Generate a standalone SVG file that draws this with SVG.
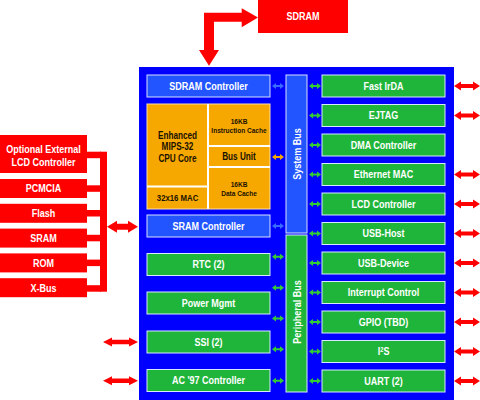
<svg xmlns="http://www.w3.org/2000/svg" width="480" height="400" viewBox="0 0 480 400">
<style>
.t,.k{font-family:"Liberation Sans",Arial,sans-serif;font-weight:bold;text-anchor:middle;transform-box:fill-box;transform-origin:center;transform:scaleX(0.82)}
.t{font-size:11px;fill:#fff}
.k{fill:#1a1200}
.red{fill:#ff0000}
.g{fill:#1fb53a;stroke:#d8e8ff;stroke-width:1}
.b{fill:#2255ff;stroke:#d8e0ff;stroke-width:1}
.o{fill:#f7a800}
.ga{fill:#33cc33}
</style>
<defs>
<path id="sa" d="M-6,0 L-2,-3 V-1 H2 V-3 L6,0 L2,3 V1 H-2 V3 Z"/>
<path id="ra" d="M0,0 L7,-4.5 V-2 H19 V-4.5 L26,0 L19,4.5 V2 H7 V4.5 Z"/>
<path id="la" d="M0,0 L9,-4.5 V-2.2 H26 V-4.5 L35,0 L26,4.5 V2.2 H9 V4.5 Z"/>
</defs>
<rect width="480" height="400" fill="#fff"/>
<rect x="139" y="67" width="315" height="333" fill="#0000ff"/>

<g id="sdram"><rect class="red" x="258" y="0" width="90" height="33"/><text class="t" x="303" y="20.5">SDRAM</text></g>

<g id="connectors">
<path class="red" d="M204,12.7 H241.7 V8.3 L258,17.5 L241.7,27.3 V21.7 H214 V50 H219 L209,65.7 L199,50 H204 Z"/>
<rect class="red" x="100" y="151.7" width="7" height="140"/>
<rect class="red" x="86" y="151.7" width="15" height="6.5"/>
<rect class="red" x="86" y="185.3" width="15" height="6.5"/>
<rect class="red" x="86" y="210" width="15" height="6.5"/>
<rect class="red" x="86" y="234.8" width="15" height="6.5"/>
<rect class="red" x="86" y="259.6" width="15" height="6.5"/>
<rect class="red" x="86" y="285.2" width="15" height="6.5"/>
<path class="red" d="M107,226.7 L117,220.7 V223.7 H128 V220.7 L138,226.7 L128,232.7 V229.7 H117 V232.7 Z"/>
<use href="#la" x="103" y="342" class="red"/>
<use href="#la" x="103" y="380.7" class="red"/>
<use href="#ra" x="454" y="86" class="red"/>
<use href="#ra" x="454" y="115.5" class="red"/>
<use href="#ra" x="454" y="174.5" class="red"/>
<use href="#ra" x="454" y="204" class="red"/>
<use href="#ra" x="454" y="233.5" class="red"/>
<use href="#ra" x="454" y="263" class="red"/>
<use href="#ra" x="454" y="292.5" class="red"/>
<use href="#ra" x="454" y="322" class="red"/>
<use href="#ra" x="454" y="351.5" class="red"/>
<use href="#ra" x="454" y="381" class="red"/>
<use href="#sa" x="278" y="86" fill="#3a6cff"/>
<use href="#sa" x="278" y="157" fill="#f7a800"/>
<use href="#sa" x="278" y="226" fill="#3a6cff"/>
<use href="#sa" x="278" y="256.7" class="ga"/>
<use href="#sa" x="278" y="287.7" class="ga"/>
<use href="#sa" x="278" y="318.5" class="ga"/>
<use href="#sa" x="278" y="349.3" class="ga"/>
<use href="#sa" x="278" y="380.7" class="ga"/>
<use href="#sa" x="315" y="86" class="ga"/>
<use href="#sa" x="315" y="115.5" class="ga"/>
<use href="#sa" x="315" y="145" class="ga"/>
<use href="#sa" x="315" y="174.5" class="ga"/>
<use href="#sa" x="315" y="204" class="ga"/>
<use href="#sa" x="315" y="233.5" class="ga"/>
<use href="#sa" x="315" y="263" class="ga"/>
<use href="#sa" x="315" y="292.5" class="ga"/>
<use href="#sa" x="315" y="322" class="ga"/>
<use href="#sa" x="315" y="351.5" class="ga"/>
<use href="#sa" x="315" y="381" class="ga"/>
</g>

<g id="lcdext"><rect class="red" x="0" y="135" width="87" height="38"/><text class="t" x="43.5" y="153">Optional External</text><text class="t" x="43.5" y="165.6">LCD Controller</text></g>
<g id="pcmcia"><rect class="red" x="0" y="179" width="87" height="19"/><text class="t" x="43.5" y="192.5">PCMCIA</text></g>
<g id="flash"><rect class="red" x="0" y="203.8" width="87" height="19"/><text class="t" x="43.5" y="217.3">Flash</text></g>
<g id="sram"><rect class="red" x="0" y="228.6" width="87" height="19"/><text class="t" x="43.5" y="242.1">SRAM</text></g>
<g id="rom"><rect class="red" x="0" y="253.4" width="87" height="19"/><text class="t" x="43.5" y="266.9">ROM</text></g>
<g id="xbus"><rect class="red" x="0" y="278.2" width="87" height="19"/><text class="t" x="43.5" y="291.7">X-Bus</text></g>

<g id="systembus"><rect class="b" x="286" y="75" width="21" height="158" fill="#1a40ff"/><g transform="translate(300.5,154) rotate(-90)"><text class="t" x="0" y="0">System Bus</text></g></g>
<g id="peripheralbus"><rect class="g" x="286" y="235" width="21" height="157"/><g transform="translate(300.5,312) rotate(-90)"><text class="t" x="0" y="0">Peripheral Bus</text></g></g>

<g id="sdramctrl"><rect class="b" x="147" y="75" width="123" height="22"/><text class="t" x="208.5" y="90">SDRAM Controller</text></g>
<g id="cpu">
<rect class="o" x="147" y="104" width="123" height="105" stroke="#ffe0a0" stroke-width="1"/>
<path d="M208,104 V209 M147,186.5 H208 M208,146 H270 M208,167 H270" stroke="#fff" stroke-width="2" fill="none"/>
<text class="k" x="177.5" y="138.6" font-size="10">Enhanced</text>
<text class="k" x="177.5" y="150.3" font-size="10">MIPS-32</text>
<text class="k" x="177.5" y="162" font-size="10">CPU Core</text>
<text class="k" x="177.5" y="201.5" font-size="9.5">32x16 MAC</text>
<text class="k" x="239" y="123.8" font-size="8">16KB</text>
<text class="k" x="239" y="133" font-size="8">Instruction Cache</text>
<text class="k" x="239" y="160.3" font-size="10">Bus Unit</text>
<text class="k" x="239" y="187.2" font-size="8">16KB</text>
<text class="k" x="239" y="196.4" font-size="8">Data Cache</text>
</g>
<g id="sramctrl"><rect class="b" x="147" y="215" width="123" height="22"/><text class="t" x="208.5" y="230">SRAM Controller</text></g>
<g id="rtc"><rect class="g" x="147" y="253.5" width="123" height="22"/><text class="t" x="208.5" y="268.5">RTC (2)</text></g>
<g id="powermgmt"><rect class="g" x="147" y="292" width="123" height="22"/><text class="t" x="208.5" y="307">Power Mgmt</text></g>
<g id="ssi"><rect class="g" x="147" y="331" width="123" height="22"/><text class="t" x="208.5" y="346">SSI (2)</text></g>
<g id="ac97"><rect class="g" x="147" y="369.5" width="123" height="22"/><text class="t" x="208.5" y="384.5">AC '97 Controller</text></g>

<g id="fastirda"><rect class="g" x="322" y="75" width="123" height="22"/><text class="t" x="383.5" y="90">Fast IrDA</text></g>
<g id="ejtag"><rect class="g" x="322" y="104.5" width="123" height="22"/><text class="t" x="383.5" y="119.5">EJTAG</text></g>
<g id="dma"><rect class="g" x="322" y="134" width="123" height="22"/><text class="t" x="383.5" y="149">DMA Controller</text></g>
<g id="ethernet"><rect class="g" x="322" y="163.5" width="123" height="22"/><text class="t" x="383.5" y="178.5">Ethernet MAC</text></g>
<g id="lcdctrl"><rect class="g" x="322" y="193" width="123" height="22"/><text class="t" x="383.5" y="208">LCD Controller</text></g>
<g id="usbhost"><rect class="g" x="322" y="222.5" width="123" height="22"/><text class="t" x="383.5" y="237.5">USB-Host</text></g>
<g id="usbdevice"><rect class="g" x="322" y="252" width="123" height="22"/><text class="t" x="383.5" y="267">USB-Device</text></g>
<g id="interrupt"><rect class="g" x="322" y="281.5" width="123" height="22"/><text class="t" x="383.5" y="296.5">Interrupt Control</text></g>
<g id="gpio"><rect class="g" x="322" y="311" width="123" height="22"/><text class="t" x="383.5" y="326">GPIO (TBD)</text></g>
<g id="i2s"><rect class="g" x="322" y="340.5" width="123" height="22"/><text class="t" x="383.5" y="355.5">I<tspan font-size="7" dy="-3.5">2</tspan><tspan dy="3.5">S</tspan></text></g>
<g id="uart"><rect class="g" x="322" y="370" width="123" height="22"/><text class="t" x="383.5" y="385">UART (2)</text></g>
</svg>
